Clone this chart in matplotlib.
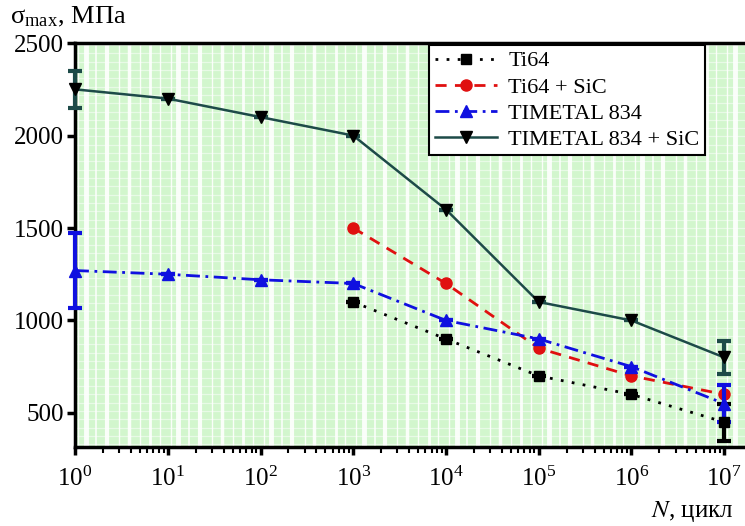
import numpy as np
import matplotlib.pyplot as plt
from matplotlib.lines import Line2D

plt.rcParams['font.family'] = ['Liberation Serif', 'DejaVu Serif']
plt.rcParams['mathtext.fontset'] = 'stix'

# data
n_ti64 = [1e3, 1e4, 1e5, 1e6, 1e7]
s_ti64 = [1100, 900, 700, 600, 450]
e_ti64 = [0, 0, 0, 0, 100]

n_ti64_sic = [1e3, 1e4, 1e5, 1e6, 1e7]
s_ti64_sic = [1500, 1200, 850, 700, 600]

n_t834 = [1e0, 1e1, 1e2, 1e3, 1e4, 1e5, 1e6, 1e7]
s_t834 = [1270, 1250, 1220, 1200, 1000, 900, 750, 550]
e_t834 = [205, 0, 0, 0, 0, 0, 0, 100]

n_t834_sic = [1e0, 1e1, 1e2, 1e3, 1e4, 1e5, 1e6, 1e7]
s_t834_sic = [2250, 2200, 2100, 2000, 1600, 1100, 1000, 800]
e_t834_sic = [100, 0, 0, 0, 0, 0, 0, 90]

fig = plt.figure(figsize=(7.45, 5.26), dpi=100)
ax = fig.add_axes([0.1007, 0.150, 0.905, 0.768])

# green background, white stripes
ax.set_facecolor('#d2f6cd')
for d in range(0, 8):
    for k, w in [(1.08, 1.0), (1.3, 3.5), (1.7, 1.2), (2.2, 3.0), (3.0, 1.0),
                 (3.8, 2.5), (5.0, 1.0), (6.5, 2.0), (8.2, 1.0)]:
        x = k * 10 ** d
        if x > 10 ** 7.3:
            continue
        ax.axvline(x, color='white', lw=w, alpha=0.9, zorder=0)
for y in range(330, 2500, 45):
    ax.axhline(y, color='white', lw=0.9, alpha=0.5, zorder=0)

conts = []
conts.append(ax.errorbar(n_ti64, s_ti64, yerr=e_ti64, color='black', ls=(0, (1, 3)), lw=2,
                         marker='s', ms=7, capsize=5, elinewidth=3, capthick=3, zorder=3))
ax.plot(n_ti64_sic, s_ti64_sic, color='#e01010', ls=(0, (4, 3)), lw=2,
        marker='o', ms=8, zorder=3)
conts.append(ax.errorbar(n_t834, s_t834, yerr=e_t834, color='#1010e0', ls=(0, (5, 2, 1, 2)), lw=2,
                         marker='^', ms=8, capsize=5, elinewidth=3, capthick=3, zorder=3))
conts.append(ax.errorbar(n_t834_sic, s_t834_sic, yerr=e_t834_sic, color='#1d4a48', ls='-', lw=1.8,
                         marker='v', ms=8, mfc='black', mec='black', capsize=5, elinewidth=3,
                         capthick=3, zorder=4))
for c in conts:
    for art in c.lines[1]:
        art.set_clip_on(False)
    for art in c.lines[2]:
        art.set_clip_on(False)
    c.lines[0].set_clip_on(False)

ax.set_xscale('log')
ax.set_xlim(1, 10 ** 7.27)
ax.set_ylim(315, 2500)
ax.set_yticks([500, 1000, 1500, 2000, 2500])
ax.set_xticks([10 ** i for i in range(8)])
ax.set_xticklabels([f'$\\mathregular{{10^{{{i}}}}}$' for i in range(8)])

for s in ['left', 'bottom', 'top']:
    ax.spines[s].set_linewidth(2.5)
ax.spines['right'].set_visible(False)
ax.tick_params(axis='both', which='major', labelsize=18, width=2.5, length=6, direction='out')
ax.tick_params(axis='x', which='minor', width=1.5, length=4, direction='out')
ax.tick_params(axis='x', pad=8)
ax.tick_params(axis='y', pad=2)

fig.text(0.013, 0.968, 'σ$_{\\mathregular{max}}$, МПа', fontsize=19, va='center', ha='left')
fig.text(0.985, 0.027, '$N$, цикл', fontsize=18, va='center', ha='right')

handles = [
    Line2D([], [], color='black', ls=(0, (1, 3)), lw=2, marker='s', ms=7),
    Line2D([], [], color='#e01010', ls=(0, (4, 3)), lw=2, marker='o', ms=8),
    Line2D([], [], color='#1010e0', ls=(0, (5, 2, 1, 2)), lw=2, marker='^', ms=8),
    Line2D([], [], color='#1d4a48', ls='-', lw=1.8, marker='v', ms=8, mfc='black', mec='black'),
]
labels = ['Ti64', 'Ti64 + SiC', 'TIMETAL 834', 'TIMETAL 834 + SiC']
leg = ax.legend(handles, labels, loc='upper left', bbox_to_anchor=(0.522, 1.0), fontsize=16,
                frameon=True, fancybox=False, edgecolor='black', framealpha=1,
                handlelength=2.8, borderpad=0.25, labelspacing=0.25, handletextpad=0.5,
                borderaxespad=0.1)
leg.get_frame().set_linewidth(1.5)

fig.savefig('out.png', dpi=100)
